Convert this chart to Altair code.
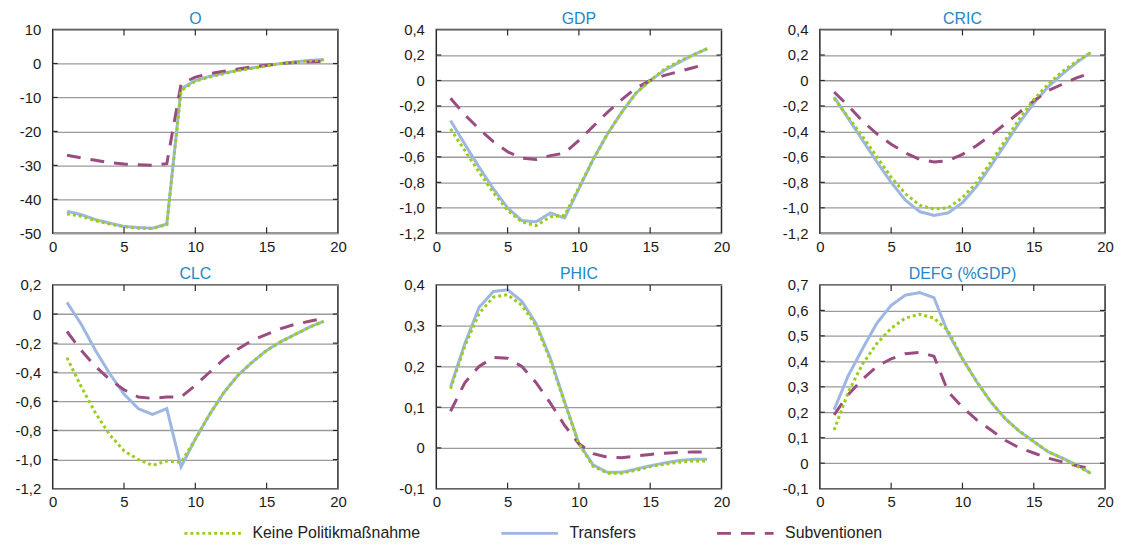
import altair as alt
import pandas as pd

FONT = "Liberation Sans"

x_vals = list(range(1, 20))
series_names = ["Keine Politikmaßnahme", "Transfers", "Subventionen"]
series_colors = ["#9ACD1A", "#9DB7E2", "#9A4B80"]
series_dashes = [[3, 3], [1, 0], [14, 10]]

# ---- panel O ----
O_keine = [-44.3, -45.0, -46.3, -47.3, -48.0, -48.5, -48.6, -47.5, -8.0, -5.2, -4.0, -3.0, -2.1, -1.4, -0.7, 0.0, 0.4, 0.8, 1.0]
O_trans = [-43.5, -44.5, -46.0, -47.0, -48.0, -48.3, -48.5, -47.3, -7.5, -5.0, -3.8, -2.8, -2.0, -1.3, -0.6, 0.0, 0.5, 0.9, 1.2]
O_subv = [-27.0, -27.8, -28.5, -29.2, -29.6, -29.8, -30.0, -29.5, -6.0, -4.0, -3.0, -2.3, -1.6, -1.0, -0.5, 0.0, 0.3, 0.5, 0.6]

# ---- panel GDP ----
GDP_keine = [-0.38, -0.55, -0.72, -0.88, -1.02, -1.11, -1.14, -1.07, -1.06, -0.84, -0.62, -0.42, -0.25, -0.10, 0.0, 0.09, 0.15, 0.20, 0.25]
GDP_trans = [-0.315, -0.50, -0.68, -0.85, -1.00, -1.10, -1.11, -1.04, -1.08, -0.85, -0.62, -0.42, -0.25, -0.10, 0.0, 0.08, 0.14, 0.20, 0.25]
GDP_subv = [-0.14, -0.27, -0.38, -0.48, -0.56, -0.61, -0.62, -0.59, -0.57, -0.47, -0.36, -0.25, -0.15, -0.06, 0.0, 0.04, 0.07, 0.10, 0.13]

# ---- panel CRIC ----
CRIC_keine = [-0.14, -0.29, -0.44, -0.60, -0.76, -0.89, -0.98, -1.01, -1.00, -0.92, -0.80, -0.64, -0.47, -0.30, -0.15, -0.03, 0.07, 0.15, 0.22]
CRIC_trans = [-0.13, -0.30, -0.47, -0.64, -0.80, -0.94, -1.03, -1.06, -1.04, -0.96, -0.83, -0.67, -0.50, -0.33, -0.18, -0.05, 0.05, 0.14, 0.22]
CRIC_subv = [-0.09, -0.20, -0.32, -0.42, -0.50, -0.57, -0.62, -0.64, -0.63, -0.58, -0.51, -0.43, -0.34, -0.25, -0.16, -0.08, -0.03, 0.02, 0.06]

# ---- panel CLC ----
CLC_keine = [-0.30, -0.50, -0.68, -0.83, -0.94, -1.00, -1.04, -1.01, -1.02, -0.86, -0.69, -0.54, -0.42, -0.33, -0.25, -0.19, -0.14, -0.09, -0.05]
CLC_trans = [0.08, -0.07, -0.25, -0.41, -0.55, -0.65, -0.69, -0.65, -1.05, -0.86, -0.69, -0.54, -0.42, -0.33, -0.25, -0.19, -0.14, -0.09, -0.05]
CLC_subv = [-0.12, -0.25, -0.36, -0.45, -0.52, -0.57, -0.58, -0.57, -0.57, -0.49, -0.40, -0.31, -0.24, -0.18, -0.14, -0.10, -0.07, -0.05, -0.03]

# ---- panel PHIC ----
PHIC_keine = [0.145, 0.25, 0.33, 0.37, 0.376, 0.35, 0.30, 0.215, 0.11, 0.01, -0.045, -0.062, -0.062, -0.055, -0.046, -0.040, -0.035, -0.032, -0.032]
PHIC_trans = [0.15, 0.256, 0.345, 0.384, 0.388, 0.36, 0.305, 0.22, 0.113, 0.011, -0.042, -0.060, -0.060, -0.052, -0.044, -0.037, -0.031, -0.028, -0.028]
PHIC_subv = [0.09, 0.16, 0.20, 0.222, 0.22, 0.20, 0.16, 0.11, 0.055, 0.01, -0.014, -0.023, -0.024, -0.020, -0.016, -0.013, -0.011, -0.010, -0.010]

# ---- panel DEFG ----
DEFG_keine = [0.13, 0.28, 0.39, 0.47, 0.53, 0.57, 0.585, 0.57, 0.52, 0.41, 0.32, 0.24, 0.175, 0.125, 0.085, 0.045, 0.02, -0.01, -0.04]
DEFG_trans = [0.21, 0.345, 0.45, 0.55, 0.62, 0.66, 0.67, 0.65, 0.51, 0.41, 0.32, 0.24, 0.175, 0.125, 0.085, 0.045, 0.02, -0.006, -0.04]
DEFG_subv = [0.19, 0.27, 0.33, 0.38, 0.41, 0.43, 0.435, 0.42, 0.28, 0.22, 0.17, 0.13, 0.09, 0.06, 0.04, 0.02, 0.005, -0.01, -0.02]

x_ticks = [0, 5, 10, 15, 20]
x_inner_ticks = [5, 10, 15]
O_ticks = [-50, -40, -30, -20, -10, 0, 10]
GDP_ticks = [-1.2, -1.0, -0.8, -0.6, -0.4, -0.2, 0.0, 0.2, 0.4]
CRIC_ticks = [-1.2, -1.0, -0.8, -0.6, -0.4, -0.2, 0.0, 0.2, 0.4]
CLC_ticks = [-1.2, -1.0, -0.8, -0.6, -0.4, -0.2, 0.0, 0.2]
PHIC_ticks = [-0.1, 0.0, 0.1, 0.2, 0.3, 0.4]
DEFG_ticks = [-0.1, 0.0, 0.1, 0.2, 0.3, 0.4, 0.5, 0.6, 0.7]

W, H = 287, 205
TITLE_COLOR = "#2387C8"
FRAME = "#2a2a2a"

def make_df(keine, trans, subv):
    rows = []
    # drawing order: Transfers, Subventionen, Keine (dotted on top)
    for name, vals in [("Transfers", trans), ("Subventionen", subv), ("Keine Politikmaßnahme", keine)]:
        for xv, v in zip(x_vals, vals):
            rows.append({"x": xv, "value": v, "series": name})
    return pd.DataFrame(rows)

LBL_DEC = "datum.value == 0 ? '0' : replace(replace(format(datum.value, '.1f'), '\u2212', '-'), '.', ',')"
LBL_INT = "replace(format(datum.value, 'd'), '\u2212', '-')"

# wide horizontal line symbol: 57px long with a small nominal symbol size
legend = alt.Legend(
    orient="none", legendX=153, legendY=499, direction="horizontal", title=None,
    symbolType="M-6,0H6", symbolSize=90, symbolStrokeWidth=3,
    labelFontSize=16, labelFont=FONT, labelColor="#222", columnPadding=75,
    labelOffset=32, padding=0, labelLimit=400,
)

def panel(title, keine, trans, subv, ticks, integer=False):
    df = make_df(keine, trans, subv)
    ymin, ymax = ticks[0], ticks[-1]
    xs = alt.Scale(domain=[0, 20], nice=False)
    ys = alt.Scale(domain=[ymin, ymax], nice=False, zero=False)
    x_axis = alt.Axis(values=x_ticks, grid=False, ticks=False, domain=False,
                      labelPadding=6, labelFontSize=15, labelFont=FONT,
                      labelColor="#1a1a1a", minExtent=22, maxExtent=22,
                      labelFlush=False)
    y_axis = alt.Axis(values=ticks, grid=True, gridColor="#9a9a9a", gridWidth=1.3,
                      ticks=False, domain=False, labelPadding=12,
                      labelFontSize=15, labelFont=FONT, labelColor="#1a1a1a",
                      labelExpr=LBL_INT if integer else LBL_DEC,
                      minExtent=41, maxExtent=41)
    lines = alt.Chart(df).mark_line(strokeWidth=3, strokeCap="butt").encode(
        x=alt.X("x:Q", scale=xs, title=None, axis=x_axis),
        y=alt.Y("value:Q", scale=ys, title=None, axis=y_axis),
        color=alt.Color("series:N", scale=alt.Scale(domain=series_names, range=series_colors), legend=legend),
        strokeDash=alt.StrokeDash("series:N", scale=alt.Scale(domain=series_names, range=series_dashes), legend=legend),
    )
    xt = pd.DataFrame({"t": x_inner_ticks})
    yt = pd.DataFrame({"t": ticks[1:-1]})
    top_t = alt.Chart(xt).mark_rule(color=FRAME, strokeWidth=1.2).encode(
        x=alt.X("t:Q", scale=xs, title=None, axis=x_axis), y=alt.value(0), y2=alt.value(6))
    bot_t = alt.Chart(xt).mark_rule(color=FRAME, strokeWidth=1.2).encode(
        x=alt.X("t:Q", scale=xs, title=None, axis=x_axis), y=alt.value(H - 6), y2=alt.value(H))
    left_t = alt.Chart(yt).mark_rule(color=FRAME, strokeWidth=1.2).encode(
        y=alt.Y("t:Q", scale=ys, title=None, axis=y_axis), x=alt.value(0), x2=alt.value(5))
    right_t = alt.Chart(yt).mark_rule(color=FRAME, strokeWidth=1.2).encode(
        y=alt.Y("t:Q", scale=ys, title=None, axis=y_axis), x=alt.value(W - 5), x2=alt.value(W))
    return alt.layer(lines, top_t, bot_t, left_t, right_t).properties(
        width=W, height=H,
        title=alt.TitleParams(title, fontSize=16, font=FONT, color=TITLE_COLOR,
                              fontWeight="normal", offset=-4, frame="group"),
    )

row1 = alt.hconcat(
    panel("O", O_keine, O_trans, O_subv, O_ticks, integer=True),
    panel("GDP", GDP_keine, GDP_trans, GDP_subv, GDP_ticks),
    panel("CRIC", CRIC_keine, CRIC_trans, CRIC_subv, CRIC_ticks),
    spacing=47,
)
row2 = alt.hconcat(
    panel("CLC", CLC_keine, CLC_trans, CLC_subv, CLC_ticks),
    panel("PHIC", PHIC_keine, PHIC_trans, PHIC_subv, PHIC_ticks),
    panel("DEFG (%GDP)", DEFG_keine, DEFG_trans, DEFG_subv, DEFG_ticks),
    spacing=47,
)

chart = alt.vconcat(row1, row2, spacing=9).properties(
    padding={"left": 3, "top": 0, "right": 0, "bottom": 0},
    background="white",
).configure_view(
    stroke=FRAME, strokeWidth=1.5
)

chart.save("out.html", embed_options={"renderer": "svg", "actions": False})
